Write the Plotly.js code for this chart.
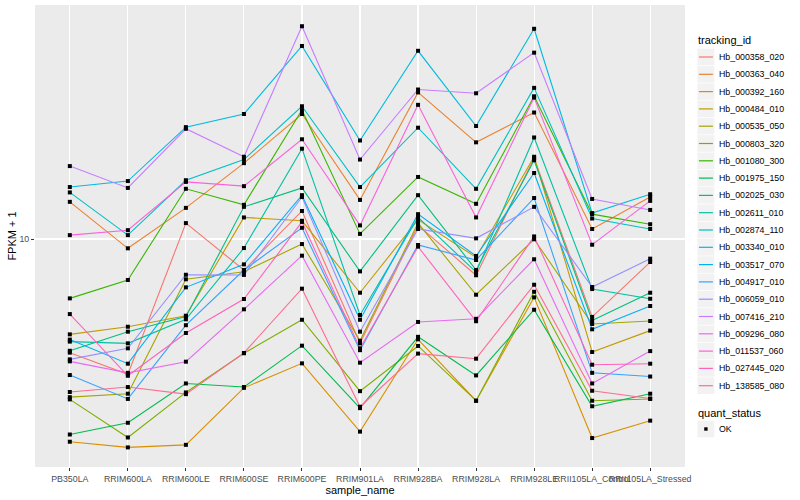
<!DOCTYPE html>
<html>
<head>
<meta charset="utf-8">
<script src="https://cdn.plot.ly/plotly-3.0.1.min.js"></script>
<style>html,body{margin:0;padding:0;background:#fff;}#chart{width:800px;height:500px;}</style>
</head>
<body>
<div id="chart"></div>
<script>
// ---- data ----
const sampleNames = ['PB350LA','RRIM600LA','RRIM600LE','RRIM600SE','RRIM600PE','RRIM901LA','RRIM928BA','RRIM928LA','RRIM928LE','RRII105LA_Control','RRII105LA_Stressed'];
const trackingIds = ['Hb_000358_020','Hb_000363_040','Hb_000392_160','Hb_000484_010','Hb_000535_050','Hb_000803_320','Hb_001080_300','Hb_001975_150','Hb_002025_030','Hb_002611_010','Hb_002874_110','Hb_003340_010','Hb_003517_070','Hb_004917_010','Hb_006059_010','Hb_007416_210','Hb_009296_080','Hb_011537_060','Hb_027445_020','Hb_138585_080'];
const quantStatus = ['OK'];

// FPKM + 1 per sample, one array per tracking_id
const Hb_000358_020 = [4.18, 3.54, 11.3, 7.88, 12.4, 4.49, 11.1, 7.57, 18.6, 5.50, 8.38];
const Hb_000363_040 = [13.3, 9.31, 12.7, 17.9, 26.1, 13.5, 30.8, 21.0, 26.4, 10.8, 13.8];
const Hb_000392_160 = [2.11, 2.02, 2.06, 3.19, 3.85, 2.28, 4.63, 2.89, 6.39, 2.17, 2.48];
const Hb_000484_010 = [4.81, 5.10, 5.55, 11.8, 11.5, 6.62, 11.6, 8.69, 18.8, 4.20, 4.95];
const Hb_000535_050 = [2.97, 3.05, 7.34, 7.78, 9.62, 4.58, 11.3, 6.52, 9.98, 5.21, 5.33];
const Hb_000803_320 = [2.92, 2.18, 3.08, 4.16, 5.38, 3.11, 4.40, 2.89, 6.67, 2.89, 2.93];
const Hb_001080_300 = [6.34, 7.30, 14.7, 13.0, 26.9, 10.4, 16.1, 13.1, 29.9, 12.1, 11.2];
const Hb_001975_150 = [2.23, 2.44, 3.30, 3.21, 4.41, 2.73, 4.72, 3.51, 5.81, 2.77, 3.05];
const Hb_002025_030 = [4.24, 4.91, 5.51, 12.8, 14.8, 7.80, 14.0, 7.88, 18.3, 5.35, 6.62];
const Hb_002611_010 = [4.55, 4.49, 5.40, 9.33, 20.0, 5.58, 11.8, 7.76, 21.8, 6.81, 6.32];
const Hb_002874_110 = [14.3, 10.3, 15.7, 18.4, 27.7, 14.9, 23.5, 14.7, 31.9, 11.7, 10.8];
const Hb_003340_010 = [14.9, 15.6, 23.6, 26.1, 44.0, 21.3, 42.4, 23.8, 50.2, 12.2, 14.1];
const Hb_003517_070 = [4.62, 3.84, 6.90, 8.23, 14.0, 5.38, 12.1, 8.78, 16.6, 5.00, 5.98];
const Hb_004917_010 = [3.52, 2.93, 5.16, 7.88, 10.9, 4.26, 9.55, 8.51, 13.7, 3.58, 3.48];
const Hb_006059_010 = [3.97, 4.32, 7.60, 7.59, 13.8, 4.91, 10.8, 10.05, 12.8, 6.92, 8.60];
const Hb_007416_210 = [17.5, 14.8, 23.3, 18.8, 51.2, 18.4, 31.5, 30.6, 41.8, 13.6, 12.5];
const Hb_009296_080 = [3.91, 3.58, 3.90, 5.83, 8.80, 3.87, 5.29, 5.42, 8.56, 3.30, 4.23];
const Hb_011537_060 = [10.3, 10.7, 15.5, 15.0, 21.5, 11.1, 28.0, 11.8, 29.6, 9.57, 13.4];
const Hb_027445_020 = [5.62, 3.50, 4.86, 6.31, 11.4, 4.32, 9.43, 5.32, 10.2, 3.81, 3.84];
const Hb_138585_080 = [3.09, 3.21, 3.04, 4.17, 6.83, 2.76, 4.15, 3.99, 7.04, 3.12, 2.94];

const yTickVals = [10];
const yTickText = ['10'];

// ---- style ----
const hueColors = ['#F8766D','#EA8331','#D89000','#C09B00','#A3A500','#7CAE00','#39B600','#00BB4E','#00BF7D','#00C1A3','#00BFC4','#00BAE0','#00B0F6','#35A2FF','#9590FF','#C77CFF','#E76BF3','#FA62DB','#FF62BC','#FF6C91'];
const FONT = 'Liberation Sans, Arial, Helvetica, sans-serif';

const series = [Hb_000358_020,Hb_000363_040,Hb_000392_160,Hb_000484_010,Hb_000535_050,Hb_000803_320,Hb_001080_300,Hb_001975_150,Hb_002025_030,Hb_002611_010,Hb_002874_110,Hb_003340_010,Hb_003517_070,Hb_004917_010,Hb_006059_010,Hb_007416_210,Hb_009296_080,Hb_011537_060,Hb_027445_020,Hb_138585_080];

const traces = [];
series.forEach((vals, i) => {
  traces.push({
    type: 'scatter', mode: 'lines', x: sampleNames, y: vals,
    name: trackingIds[i], line: {color: hueColors[i], width: 1.1},
    showlegend: false, hoverinfo: 'x+y+name'
  });
});
// points drawn on top of all lines (quant_status = OK)
series.forEach((vals, i) => {
  traces.push({
    type: 'scatter', mode: 'markers', x: sampleNames, y: vals,
    name: quantStatus[0], marker: {color: '#000000', symbol: 'square', size: 4},
    showlegend: false, hoverinfo: 'skip'
  });
});

// ---- layout geometry (pixels) ----
const W = 800, H = 500;
const L = 35, R = 684.6, T = 5, B = 467;
const px2x = p => (p - L) / (R - L);
const py2y = p => (B - p) / (B - T);

const shapes = [];
const annotations = [];
const legX = 697, keyW = 17, itemH = 17.3, firstY = 57;
annotations.push({xref:'paper', yref:'paper', x: px2x(legX - 1), y: py2y(40.5), xanchor:'left', yanchor:'middle',
  text:'tracking_id', showarrow:false, font:{family:FONT, size:11, color:'#000'}});
trackingIds.forEach((id, i) => {
  const cy = firstY + i * itemH;
  shapes.push({type:'rect', xref:'paper', yref:'paper', x0:px2x(legX), x1:px2x(legX+keyW), y0:py2y(cy+8.3), y1:py2y(cy-8.3),
    fillcolor:'#F2F2F2', line:{width:0}, layer:'above'});
  shapes.push({type:'line', xref:'paper', yref:'paper', x0:px2x(legX+1.5), x1:px2x(legX+keyW-1.5), y0:py2y(cy), y1:py2y(cy),
    line:{color:hueColors[i], width:1.2}, layer:'above'});
  annotations.push({xref:'paper', yref:'paper', x: px2x(legX+keyW+2.5), y: py2y(cy), xanchor:'left', yanchor:'middle',
    text:id, showarrow:false, font:{family:FONT, size:8.8, color:'#000'}});
});
annotations.push({xref:'paper', yref:'paper', x: px2x(legX - 1), y: py2y(412.5), xanchor:'left', yanchor:'middle',
  text:'quant_status', showarrow:false, font:{family:FONT, size:11, color:'#000'}});
const okY = 429;
shapes.push({type:'rect', xref:'paper', yref:'paper', x0:px2x(legX), x1:px2x(legX+keyW), y0:py2y(okY+8.3), y1:py2y(okY-8.3),
  fillcolor:'#F2F2F2', line:{width:0}, layer:'above'});
shapes.push({type:'rect', xref:'paper', yref:'paper', x0:px2x(legX+6.8), x1:px2x(legX+10.2), y0:py2y(okY+1.7), y1:py2y(okY-1.7),
  fillcolor:'#000', line:{width:0}, layer:'above'});
annotations.push({xref:'paper', yref:'paper', x: px2x(legX+keyW+2.5), y: py2y(okY), xanchor:'left', yanchor:'middle',
  text:quantStatus[0], showarrow:false, font:{family:FONT, size:8.8, color:'#000'}});

const layout = {
  width: W, height: H,
  margin: {l: L, r: W - R, t: T, b: H - B, pad: 0},
  paper_bgcolor: '#FFFFFF', plot_bgcolor: '#EBEBEB',
  font: {family: FONT, size: 11, color: '#000'},
  showlegend: false,
  xaxis: {
    type: 'category', categoryorder: 'array', categoryarray: sampleNames,
    range: [-0.6, sampleNames.length - 0.4],
    showgrid: true, gridcolor: '#FFFFFF', gridwidth: 1.1,
    zeroline: false, showline: false,
    ticks: 'outside', ticklen: 3, tickwidth: 1, tickcolor: '#333333',
    tickangle: 0, tickfont: {family: FONT, size: 8.8, color: '#4D4D4D'},
    title: {text: 'sample_name', font: {family: FONT, size: 11, color: '#000'}, standoff: 2},
    automargin: false
  },
  yaxis: {
    type: 'log', range: [0.24, 1.78],
    tickmode: 'array', tickvals: yTickVals, ticktext: yTickText,
    showgrid: true, gridcolor: '#FFFFFF', gridwidth: 1.1,
    zeroline: false, showline: false,
    ticks: 'outside', ticklen: 3, tickwidth: 1, tickcolor: '#333333',
    tickfont: {family: FONT, size: 8.8, color: '#4D4D4D'},
    title: {text: 'FPKM + 1', font: {family: FONT, size: 11, color: '#000'}, standoff: 0},
    automargin: false
  },
  shapes: shapes,
  annotations: annotations
};

Plotly.newPlot('chart', traces, layout, {displayModeBar: false, staticPlot: true});
</script>
</body>
</html>
